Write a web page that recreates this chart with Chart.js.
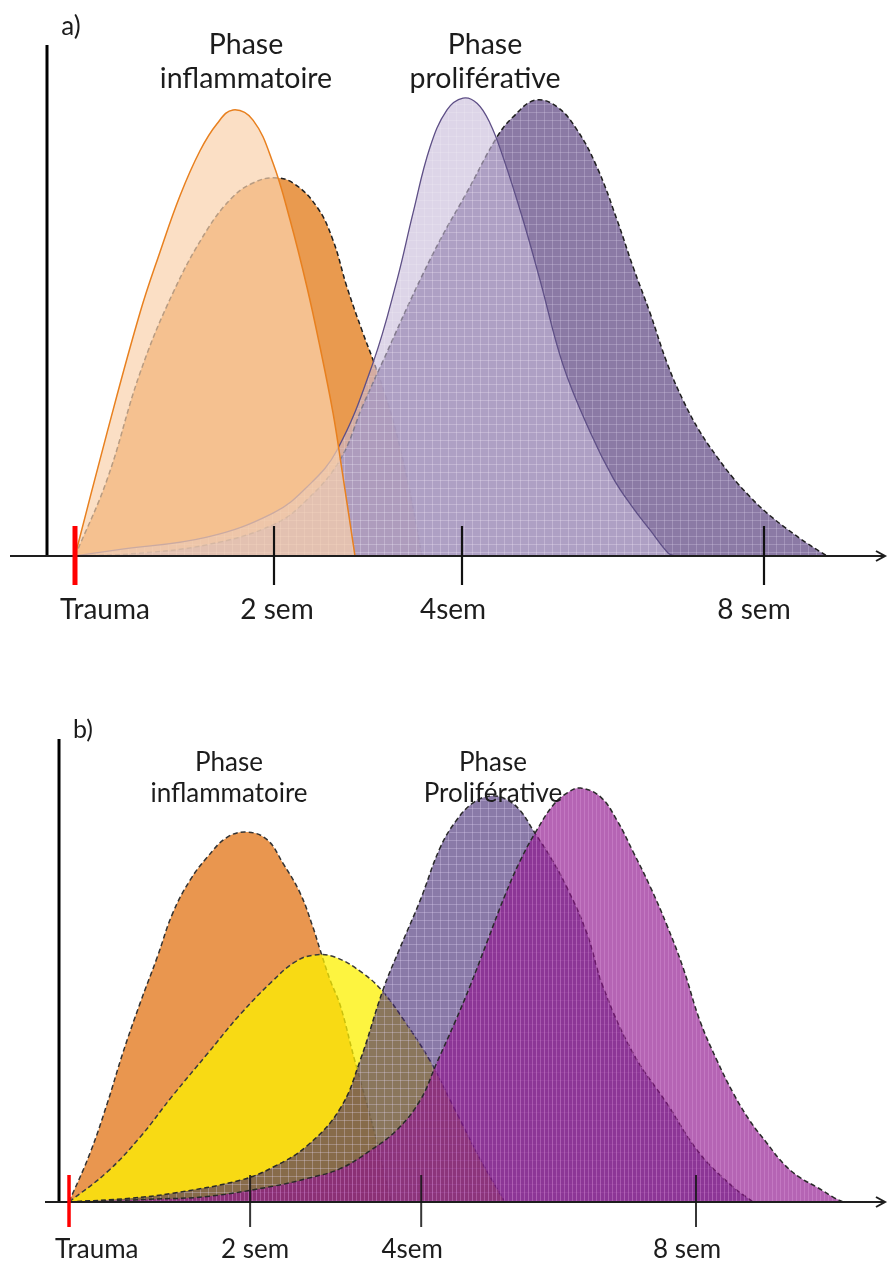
<!DOCTYPE html>
<html lang="fr">
<head>
<meta charset="utf-8">
<title>Phases de cicatrisation</title>
<script src="https://cdn.jsdelivr.net/npm/chart.js@4.4.1/dist/chart.umd.min.js"></script>
<style>
  html, body { margin: 0; padding: 0; background: #fff; }
  #wrap { position: relative; width: 888px; height: 1262px; overflow: hidden;
          font-family: Lato, "Open Sans", sans-serif; color: #1c1c1c; }
  #wrap canvas { position: absolute; left: 0; }
  .lbl { position: absolute; transform: translate(-50%, -50%); white-space: nowrap;
         text-align: center; }
</style>
</head>
<body>
<div id="wrap">
  <canvas id="chartA" width="888" height="640" style="top:0"></canvas>
  <canvas id="chartB" width="888" height="622" style="top:640px"></canvas>

  <div class="lbl" style="left:71px;top:25px;font-size:26px;line-height:26px">a)</div>
  <div class="lbl" style="left:246px;top:60px;font-size:28.5px;line-height:34px">Phase<br>inflammatoire</div>
  <div class="lbl" style="left:485px;top:60px;font-size:28.5px;line-height:34px">Phase<br>proliférative</div>

  <div class="lbl" style="left:83px;top:728px;font-size:25px;line-height:25px">b)</div>
  <div class="lbl" style="left:229px;top:777px;font-size:26px;line-height:31px">Phase<br>inflammatoire</div>
  <div class="lbl" style="left:493px;top:777px;font-size:26px;line-height:31px">Phase<br>Proliférative</div>
</div>

<script>
// Time line: positions on the schematic time scale and their labels
const tickPositions = [0, 19.9, 38.7, 68.9];
const tickLabels = ['Trauma', '2 sem', '4sem', '8 sem'];

// Panel a) — intensity curves, [time, intensity]
const aInflamLight = [[0,0],[3.2,24.1],[6.5,47.6],[8.5,59.5],[10.5,70.5],[12.5,79.3],[14.2,84.6],
  [15.8,87.3],[17.8,85.3],[19.8,76.9],[21.5,65.8],[23.2,52.6],[24.5,40.9],[25.8,28.0],[26.7,16.8],[28.0,0]];
const aInflamDark = [[0,0],[3.2,14.9],[6.5,35.8],[9.8,51.5],[13.2,63.8],[15.8,70.3],[17.8,73.0],
  [19.8,74.0],[21.8,73.0],[24.2,68.3],[25.8,61.8],[27.2,52.6],[28.8,43.6],[29.8,38.4],[31.2,30.5],
  [32.5,21.3],[33.8,9.6],[34.7,0]];
const aProlifLight = [[0,0],[4.2,1.2],[13.2,3.7],[19.8,8.4],[23.2,13.5],[26.2,20.7],[29.8,37.8],
  [32.2,54.0],[33.8,67.1],[35.5,80.0],[37.2,87.3],[38.8,89.6],[40.2,88.6],[41.5,84.7],[42.8,78.1],
  [44.8,65.8],[46.5,54.0],[48.8,37.4],[51.5,24.3],[53.8,15.3],[55.8,9.4],[57.5,5.1],[59.3,0.6],[60.0,0]];
const aProlifDark = [[0,0],[5.5,0.4],[13.2,2.2],[19.8,6.1],[23.2,11.0],[26.5,18.8],[28.8,29.5],
  [31.2,39.9],[33.8,51.1],[36.5,61.8],[39.2,71.2],[42.2,82.0],[43.8,85.9],[46.0,89.2],[48.2,87.9],
  [50.2,83.4],[52.2,76.1],[54.2,65.8],[55.8,56.6],[57.5,47.6],[59.2,37.8],[60.8,30.5],[62.5,24.3],
  [64.2,19.4],[65.8,15.3],[67.5,11.6],[69.2,8.4],[71.2,5.3],[73.2,2.5],[75.2,0]];

// Panel b) — intensity curves, [time, intensity]
const bInflam = [[0,0],[2.3,10.5],[4.2,21.3],[5.9,32.1],[7.8,42.9],[9.7,52.9],[11.4,62.4],[13.3,69.5],
  [15.2,74.5],[17.4,78.8],[19.6,79.9],[21.8,78.2],[23.5,73.2],[25.4,66.7],[26.8,59.4],[27.6,54.4],
  [28.7,47.9],[29.8,42.5],[31.3,31.3],[33.5,15.5],[35.4,0]];
const bYellow = [[0,0],[4.2,6.5],[7.8,14.0],[11.4,23.0],[15.2,32.0],[18.8,40.5],[22.4,47.8],[24.8,51.8],
  [26.8,53.3],[29.2,52.9],[32.3,49.4],[34.5,45.4],[36.9,39.0],[39.7,30.4],[42.4,20.0],[45.2,9.2],[47.9,0]];
const bProlifGrey = [[0,0],[6.7,0.8],[11.4,1.9],[18.8,4.7],[22.4,7.5],[26.2,12.2],[29.8,20.2],[32.0,30.6],
  [34.5,45.8],[36.4,55.0],[38.6,65.2],[40.8,76.6],[42.6,82.5],[44.4,86.2],[46.3,87.7],[48.0,87.0],
  [49.6,84.5],[51.0,80.3],[52.9,74.5],[54.7,68.0],[56.9,58.1],[58.7,46.4],[62.0,32.1],[65.7,21.3],
  [69.3,10.5],[73.0,3.2],[75.2,0]];
const bProlifMagenta = [[0,0],[8.9,0.6],[15.2,1.2],[22.4,3.4],[26.2,5.1],[29.8,7.2],[33.1,11.1],[36.0,15.5],
  [38.6,22.0],[40.4,30.0],[42.4,38.8],[44.1,46.8],[46.0,56.5],[47.9,66.2],[49.6,73.8],[51.4,80.3],
  [53.2,85.7],[54.7,88.3],[56.2,89.4],[58.4,87.5],[60.2,82.5],[62.0,75.6],[63.8,68.4],[65.7,59.8],
  [67.5,50.5],[69.3,39.3],[71.2,30.6],[73.0,23.5],[74.8,17.6],[76.7,12.7],[78.5,8.3],[80.3,5.3],
  [82.2,3.2],[84.0,1.0],[85.1,0]];

const toXY = arr => arr.map(([x, y]) => ({ x, y }));

// Small tiled fill with faint lines, used for the textured purple areas
function texture(base, line, step, vertOnly) {
  const c = document.createElement('canvas');
  c.width = step; c.height = step;
  const g = c.getContext('2d');
  g.fillStyle = base;
  g.fillRect(0, 0, step, step);
  g.fillStyle = line;
  g.fillRect(0, 0, 1, step);
  if (!vertOnly) g.fillRect(0, 0, step, 1);
  return g.createPattern(c, 'repeat');
}

function curve(data, fill, stroke, width, dash, order) {
  return {
    data: toXY(data),
    backgroundColor: fill,
    borderColor: stroke,
    borderWidth: width,
    borderDash: dash,
    fill: 'origin',
    pointRadius: 0,
    tension: 0.4,
    order
  };
}

// Axes, tick marks and time labels drawn on the chart's own scales
const timelineAxis = {
  id: 'timelineAxis',
  afterDatasetsDraw(chart, args, o) {
    const { ctx, chartArea: area, scales: { x, y } } = chart;
    const y0 = y.getPixelForValue(0);
    ctx.save();
    ctx.lineCap = 'butt';

    const ax = x.getPixelForValue(o.yAxisAt);
    ctx.strokeStyle = '#000';
    ctx.lineWidth = o.axisWidth;
    ctx.beginPath();
    ctx.moveTo(ax, y.getPixelForValue(y.max));
    ctx.lineTo(ax, y0);
    ctx.stroke();

    ctx.strokeStyle = '#1e1e1e';
    ctx.lineWidth = o.baseWidth;
    ctx.beginPath();
    ctx.moveTo(area.left, y0);
    ctx.lineTo(area.right, y0);
    ctx.stroke();
    ctx.beginPath();
    ctx.moveTo(area.right - 9, y0 - 5);
    ctx.lineTo(area.right, y0);
    ctx.lineTo(area.right - 9, y0 + 5);
    ctx.stroke();

    tickPositions.forEach((t, i) => {
      const px = x.getPixelForValue(t);
      ctx.strokeStyle = i === 0 ? '#ff0000' : o.tickColor;
      ctx.lineWidth = i === 0 ? o.originWidth : o.tickWidth;
      ctx.beginPath();
      ctx.moveTo(px, y0 - o.tickUp);
      ctx.lineTo(px, y0 + o.tickDown);
      ctx.stroke();
    });

    // first label starts just left of its tick, the others sit under theirs
    ctx.fillStyle = '#1c1c1c';
    ctx.font = o.fontSize + 'px Lato, "Open Sans", sans-serif';
    ctx.textBaseline = 'middle';
    tickLabels.forEach((lab, i) => {
      const px = x.getPixelForValue(tickPositions[i]) + o.labelShift[i];
      ctx.textAlign = i === 0 ? 'left' : 'center';
      ctx.fillText(lab, px, y0 + o.labelGap);
    });
    ctx.restore();
  }
};

function baseOptions(xMin, xMax, padding, axisOpts) {
  return {
    responsive: false,
    animation: false,
    devicePixelRatio: 1,
    layout: { padding },
    scales: {
      x: { type: 'linear', min: xMin, max: xMax, display: false },
      y: { type: 'linear', min: 0, max: 100, display: false }
    },
    plugins: {
      legend: { display: false },
      tooltip: { enabled: false },
      timelineAxis: axisOpts
    }
  };
}

// Panel a)
new Chart(document.getElementById('chartA'), {
  type: 'line',
  data: {
    datasets: [
      curve(aInflamLight, 'rgba(250,210,173,0.7)', '#e8801f', 1.5, [], 1),
      curve(aProlifLight, texture('rgba(198,185,217,0.6)', 'rgba(255,255,255,0.14)', 8), '#5e4f86', 1.3, [], 2),
      curve(aProlifDark, texture('rgba(126,107,155,0.9)', 'rgba(215,205,232,0.3)', 8), '#1f1f1f', 1.5, [5, 3], 3),
      curve(aInflamDark, '#e99a4f', '#1f1f1f', 1.5, [5, 3], 4)
    ]
  },
  options: baseOptions(-6.5, 81.0, { left: 10, right: 3, top: 45, bottom: 84 }, {
    yAxisAt: -2.8, axisWidth: 3, baseWidth: 2, tickColor: '#111', tickWidth: 2.2,
    originWidth: 5, tickUp: 30, tickDown: 29, labelShift: [-15, 3, -9, -10],
    fontSize: 28, labelGap: 54
  }),
  plugins: [timelineAxis]
});

// Panel b)
new Chart(document.getElementById('chartB'), {
  type: 'line',
  data: {
    datasets: [
      curve(bProlifMagenta, texture('rgba(141,17,140,0.65)', 'rgba(230,170,230,0.3)', 4, true), '#2a2a2a', 1.5, [5, 3], 1),
      curve(bProlifGrey, texture('rgba(60,33,110,0.6)', 'rgba(225,215,245,0.3)', 8), '#2a2a2a', 1.5, [5, 3], 2),
      curve(bYellow, 'rgba(252,240,0,0.75)', '#3a3a3a', 1.5, [5, 3], 3),
      curve(bInflam, '#e9964f', '#333333', 1.5, [5, 3], 4)
    ]
  },
  options: baseOptions(-2.64, 89.67, { left: 45, right: 3, top: 99, bottom: 60 }, {
    yAxisAt: -1.1, axisWidth: 3, baseWidth: 2, tickColor: 'rgba(20,20,20,0.85)', tickWidth: 2,
    originWidth: 3.5, tickUp: 27, tickDown: 25, labelShift: [-14, 5, -9, -9],
    fontSize: 26, labelGap: 48
  }),
  plugins: [timelineAxis]
});
</script>
</body>
</html>
